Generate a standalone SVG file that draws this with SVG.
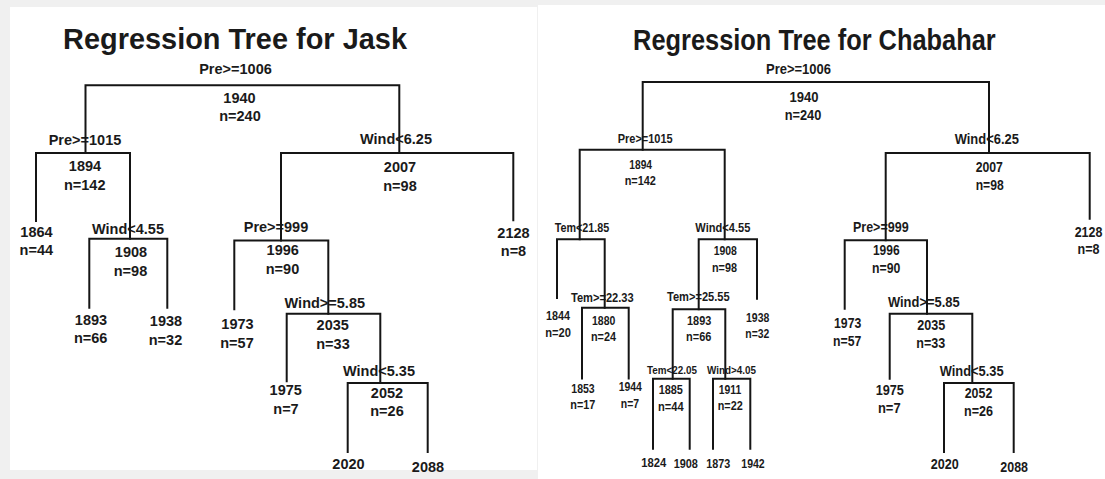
<svg xmlns="http://www.w3.org/2000/svg" width="1105" height="479" viewBox="0 0 1105 479">
<style>
text{font-family:"Liberation Sans",Arial,sans-serif;font-weight:bold;fill:#1a1a1a;text-anchor:middle}
.t{font-size:28.8px}
.j{font-size:14.5px}
.c1{font-size:15px}
.c2{font-size:14.5px}
.c3{font-size:12.5px}
.c4{font-size:11px}
.e{fill:none;stroke:#151515;stroke-width:2;stroke-linecap:square}
</style>
<rect x="0" y="0" width="1105" height="479" fill="#f0f0f0"/>
<rect x="10" y="7" width="527" height="463" fill="#ffffff"/>
<rect x="538" y="5" width="567" height="474" fill="#ffffff"/>

<g id="jask">
<text class="t" x="235" y="48.7" textLength="344" lengthAdjust="spacingAndGlyphs">Regression Tree for Jask</text>
<g id="j-root"><text class="j" x="235.5" y="74.3">Pre&gt;=1006</text><text class="j" x="239.5" y="103">1940</text><text class="j" x="240" y="121.3">n=240</text></g>
<g id="j-1894"><text class="j" x="85" y="145.3">Pre&gt;=1015</text><text class="j" x="85" y="171">1894</text><text class="j" x="84.7" y="189.7">n=142</text></g>
<g id="j-2007"><text class="j" x="396" y="143.7">Wind&lt;6.25</text><text class="j" x="400" y="172">2007</text><text class="j" x="400" y="191">n=98</text></g>
<g id="j-1864"><text class="j" x="36.5" y="237">1864</text><text class="j" x="36.3" y="255.3">n=44</text></g>
<g id="j-1908"><text class="j" x="128" y="233.7">Wind&lt;4.55</text><text class="j" x="131" y="257">1908</text><text class="j" x="130.5" y="276">n=98</text></g>
<g id="j-2128"><text class="j" x="513.5" y="238">2128</text><text class="j" x="513.5" y="256.3">n=8</text></g>
<g id="j-1996"><text class="j" x="276" y="232">Pre&gt;=999</text><text class="j" x="282.7" y="255.3">1996</text><text class="j" x="282.5" y="274.3">n=90</text></g>
<g id="j-1893"><text class="j" x="91" y="324.7">1893</text><text class="j" x="90.7" y="343">n=66</text></g>
<g id="j-1938"><text class="j" x="166" y="326.3">1938</text><text class="j" x="165.5" y="344.7">n=32</text></g>
<g id="j-1973"><text class="j" x="237.5" y="328.7">1973</text><text class="j" x="237" y="347.7">n=57</text></g>
<g id="j-2035"><text class="j" x="324.8" y="308">Wind&gt;=5.85</text><text class="j" x="332.7" y="330.3">2035</text><text class="j" x="333" y="348.7">n=33</text></g>
<g id="j-1975"><text class="j" x="285.7" y="395.3">1975</text><text class="j" x="286" y="413.5">n=7</text></g>
<g id="j-2052"><text class="j" x="379" y="376">Wind&lt;5.35</text><text class="j" x="387" y="397.7">2052</text><text class="j" x="387" y="416.3">n=26</text></g>
<g id="j-2020"><text class="j" x="348.5" y="468.7">2020</text></g>
<g id="j-2088"><text class="j" x="428" y="472">2088</text></g>
</g>

<g id="chabahar">
<text class="t" x="814.4" y="50.3" textLength="362.7" lengthAdjust="spacingAndGlyphs">Regression Tree for Chabahar</text>
<g id="c-root"><text class="c1" x="798.5" y="73.7" textLength="65" lengthAdjust="spacingAndGlyphs">Pre&gt;=1006</text><text class="c1" x="804" y="102" textLength="29" lengthAdjust="spacingAndGlyphs">1940</text><text class="c1" x="803" y="120.3" textLength="36.6" lengthAdjust="spacingAndGlyphs">n=240</text></g>
<g id="c-1894"><text class="c3" x="645.2" y="142.7" textLength="55" lengthAdjust="spacingAndGlyphs">Pre&gt;=1015</text><text class="c3" x="640.7" y="168.7" textLength="22.7" lengthAdjust="spacingAndGlyphs">1894</text><text class="c3" x="640.3" y="185.3" textLength="31.3" lengthAdjust="spacingAndGlyphs">n=142</text></g>
<g id="c-2007"><text class="c2" x="986.8" y="143.7" textLength="64.3" lengthAdjust="spacingAndGlyphs">Wind&lt;6.25</text><text class="c2" x="989.3" y="172" textLength="27.3" lengthAdjust="spacingAndGlyphs">2007</text><text class="c2" x="989.7" y="190.3" textLength="28" lengthAdjust="spacingAndGlyphs">n=98</text></g>
<g id="c-tem1"><text class="c3" x="582" y="232" textLength="54.6" lengthAdjust="spacingAndGlyphs">Tem&lt;21.85</text></g>
<g id="c-1908"><text class="c3" x="722.8" y="232" textLength="55" lengthAdjust="spacingAndGlyphs">Wind&lt;4.55</text><text class="c3" x="725.3" y="255.3" textLength="23.3" lengthAdjust="spacingAndGlyphs">1908</text><text class="c3" x="724.5" y="272" textLength="25" lengthAdjust="spacingAndGlyphs">n=98</text></g>
<g id="c-2128"><text class="c2" x="1088.5" y="237" textLength="27.7" lengthAdjust="spacingAndGlyphs">2128</text><text class="c2" x="1088.5" y="253.7" textLength="22" lengthAdjust="spacingAndGlyphs">n=8</text></g>
<g id="c-1996"><text class="c2" x="880.8" y="232" textLength="55.7" lengthAdjust="spacingAndGlyphs">Pre&gt;=999</text><text class="c2" x="886.3" y="255.3" textLength="26.7" lengthAdjust="spacingAndGlyphs">1996</text><text class="c2" x="886.2" y="272.7" textLength="28.3" lengthAdjust="spacingAndGlyphs">n=90</text></g>
<g id="c-1844"><text class="c3" x="558" y="320" textLength="24" lengthAdjust="spacingAndGlyphs">1844</text><text class="c3" x="558" y="336.7" textLength="25.7" lengthAdjust="spacingAndGlyphs">n=20</text></g>
<g id="c-1880"><text class="c3" x="602.3" y="302" textLength="62.7" lengthAdjust="spacingAndGlyphs">Tem&gt;=22.33</text><text class="c3" x="603.7" y="324.7" textLength="23.3" lengthAdjust="spacingAndGlyphs">1880</text><text class="c3" x="603.5" y="341.3" textLength="25" lengthAdjust="spacingAndGlyphs">n=24</text></g>
<g id="c-1893"><text class="c3" x="698.3" y="301" textLength="62.7" lengthAdjust="spacingAndGlyphs">Tem&gt;=25.55</text><text class="c3" x="699.2" y="324.7" textLength="24.3" lengthAdjust="spacingAndGlyphs">1893</text><text class="c3" x="698.7" y="341.3" textLength="25.3" lengthAdjust="spacingAndGlyphs">n=66</text></g>
<g id="c-1938"><text class="c3" x="757.7" y="322" textLength="23.3" lengthAdjust="spacingAndGlyphs">1938</text><text class="c3" x="757.3" y="338" textLength="24" lengthAdjust="spacingAndGlyphs">n=32</text></g>
<g id="c-1973"><text class="c2" x="847.7" y="328" textLength="27.3" lengthAdjust="spacingAndGlyphs">1973</text><text class="c2" x="847.2" y="346" textLength="28.3" lengthAdjust="spacingAndGlyphs">n=57</text></g>
<g id="c-2035"><text class="c2" x="923.8" y="307" textLength="71.7" lengthAdjust="spacingAndGlyphs">Wind&gt;=5.85</text><text class="c2" x="931.3" y="330.3" textLength="28" lengthAdjust="spacingAndGlyphs">2035</text><text class="c2" x="930.8" y="348" textLength="29" lengthAdjust="spacingAndGlyphs">n=33</text></g>
<g id="c-1853"><text class="c3" x="583" y="392.7" textLength="23.4" lengthAdjust="spacingAndGlyphs">1853</text><text class="c3" x="582.8" y="409.3" textLength="25" lengthAdjust="spacingAndGlyphs">n=17</text></g>
<g id="c-1944"><text class="c3" x="630.3" y="391.3" textLength="23.3" lengthAdjust="spacingAndGlyphs">1944</text><text class="c3" x="630" y="408" textLength="18.3" lengthAdjust="spacingAndGlyphs">n=7</text></g>
<g id="c-1885"><text class="c4" x="672" y="373.7" textLength="50" lengthAdjust="spacingAndGlyphs">Tem&lt;22.05</text><text class="c3" x="670.8" y="394.3" textLength="24.3" lengthAdjust="spacingAndGlyphs">1885</text><text class="c3" x="670.8" y="411.3" textLength="25.7" lengthAdjust="spacingAndGlyphs">n=44</text></g>
<g id="c-1911"><text class="c4" x="731.5" y="373.7" textLength="49" lengthAdjust="spacingAndGlyphs">Wind&gt;4.05</text><text class="c3" x="730" y="393.7" textLength="22.6" lengthAdjust="spacingAndGlyphs">1911</text><text class="c3" x="730.2" y="410.3" textLength="25" lengthAdjust="spacingAndGlyphs">n=22</text></g>
<g id="c-1824"><text class="c3" x="653.8" y="467" textLength="25" lengthAdjust="spacingAndGlyphs">1824</text></g>
<g id="c-1908b"><text class="c3" x="685.8" y="468" textLength="24.3" lengthAdjust="spacingAndGlyphs">1908</text></g>
<g id="c-1873"><text class="c3" x="718.3" y="468" textLength="24" lengthAdjust="spacingAndGlyphs">1873</text></g>
<g id="c-1942"><text class="c3" x="753" y="468" textLength="23.4" lengthAdjust="spacingAndGlyphs">1942</text></g>
<g id="c-1975"><text class="c2" x="889.8" y="395.3" textLength="28.3" lengthAdjust="spacingAndGlyphs">1975</text><text class="c2" x="889.3" y="413" textLength="22.7" lengthAdjust="spacingAndGlyphs">n=7</text></g>
<g id="c-2052"><text class="c2" x="971.7" y="376" textLength="64" lengthAdjust="spacingAndGlyphs">Wind&lt;5.35</text><text class="c2" x="978.5" y="398" textLength="27.6" lengthAdjust="spacingAndGlyphs">2052</text><text class="c2" x="978.5" y="416.3" textLength="29" lengthAdjust="spacingAndGlyphs">n=26</text></g>
<g id="c-2020"><text class="c2" x="944.7" y="468.7" textLength="28" lengthAdjust="spacingAndGlyphs">2020</text></g>
<g id="c-2088"><text class="c2" x="1014.2" y="472" textLength="27.7" lengthAdjust="spacingAndGlyphs">2088</text></g>
</g>

<g id="connectors" class="e">
<path class="e" d="M85.5,153 V85.3 H399.3 V153"/>
<path class="e" d="M36,221 V153 H130 V238.7"/>
<path class="e" d="M89.3,307.7 V238.7 H167.3 V307.7"/>
<path class="e" d="M281,240.5 V153 H513.3 V220.3"/>
<path class="e" d="M234.3,309.3 V240.5 H328.3 V313.7"/>
<path class="e" d="M286.7,381.3 V313.7 H380.3 V383"/>
<path class="e" d="M347.7,452 V383 H427.7 V452"/>
<path class="e" d="M642.7,149.7 V82 H989 V153"/>
<path class="e" d="M579.7,239.3 V149.7 H724.7 V239.3"/>
<path class="e" d="M557,298 V239.3 H604.7 V307.7"/>
<path class="e" d="M582,378.5 V307.7 H628.7 V378.5"/>
<path class="e" d="M698.7,309.3 V239.3 H757 V298.7"/>
<path class="e" d="M672.7,378.7 V309.3 H725.3 V378.7"/>
<path class="e" d="M653,448.7 V378.7 H689.7 V448.7"/>
<path class="e" d="M713,448.7 V378.7 H750.3 V448.7"/>
<path class="e" d="M885.7,240.3 V153 H1089.7 V218.7"/>
<path class="e" d="M844.7,308.7 V240.3 H927 V313.7"/>
<path class="e" d="M889.7,378.7 V313.7 H972.3 V383"/>
<path class="e" d="M944,452 V383 H1013.7 V452"/>
</g>
</svg>
